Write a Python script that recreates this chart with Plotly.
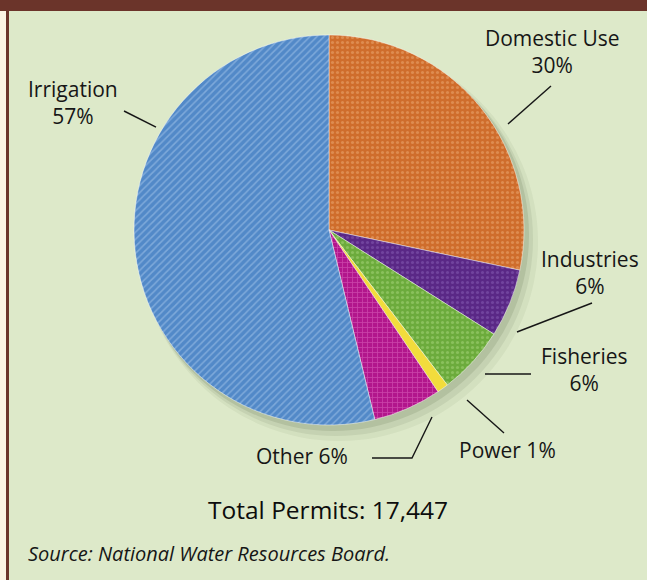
import plotly.graph_objects as go

# ---- data ----
categories = ["Domestic Use", "Industries", "Fisheries", "Power", "Other", "Irrigation"]
shares = [30, 6, 6, 1, 6, 57]  # percent of permits, as published
total_permits = 17447
source_note = "Source: National Water Resources Board."

# ---- styling ----
W, H = 647, 580
slice_colors = ["#cf6d2c", "#5a2886", "#6cab3c", "#f2dc3c", "#b2168c", "#5289c8"]
texture_colors = ["#f0b27c", "#8f66bb", "#b0dc84", "#fff3a0", "#e877cb", "#b3d0f0"]
texture_shapes = [".", ".", ".", "", "+", "/"]
bg_green = "#dde9c9"
frame_brown = "#6b342a"
page_cream = "#fbf3e3"
ink = "#161616"
font_family = "Open Sans, Noto Sans, DejaVu Sans, sans-serif"

# pie placement in pixels (centre and radius)
cx, cy, r = 329, 230, 195


def px(x):
    return x / W


def py(y):
    return 1 - y / H


def pie_domain(ox=0.0, oy=0.0, grow=0.0):
    rr = r + grow
    return dict(x=[px(cx + ox - rr), px(cx + ox + rr)],
                y=[py(cy + oy + rr), py(cy + oy - rr)])


fig = go.Figure()

# soft drop shadow under the pie (stacked translucent discs)
for ox, oy, grow, alpha in [(10, 12, 4, 0.05), (7, 9, 2, 0.08), (4, 5, 1, 0.11)]:
    fig.add_trace(go.Pie(
        values=[1], labels=["shadow"], domain=pie_domain(ox, oy, grow),
        marker=dict(colors=[f"rgba(40,55,20,{alpha})"], line=dict(width=0)),
        textinfo="none", hoverinfo="skip", showlegend=False, sort=False,
    ))

# the pie itself
fig.add_trace(go.Pie(
    labels=categories,
    values=shares,
    sort=False,
    direction="clockwise",
    rotation=0,
    domain=pie_domain(),
    marker=dict(
        colors=slice_colors,
        line=dict(color="rgba(255,255,255,0.45)", width=1),
        pattern=dict(
            shape=texture_shapes,
            fillmode="overlay",
            fgcolor=texture_colors,
            fgopacity=0.45,
            size=5,
            solidity=0.3,
        ),
    ),
    textinfo="none",
    hovertemplate="%{label}: %{value}%<extra></extra>",
    showlegend=False,
))

# ---- labels (text centre in px) and leader lines ----
share = dict(zip(categories, shares))
label_text = {
    "Domestic Use": f"Domestic Use<br>{share['Domestic Use']}%",
    "Industries": f"Industries<br>{share['Industries']}%",
    "Fisheries": f"Fisheries<br>{share['Fisheries']}%",
    "Power": f"Power {share['Power']}%",
    "Other": f"Other {share['Other']}%",
    "Irrigation": f"Irrigation<br>{share['Irrigation']}%",
}
label_pos = {
    "Domestic Use": (552, 51),
    "Industries": (590, 272),
    "Fisheries": (584, 369),
    "Power": (507, 450),
    "Other": (302, 456),
    "Irrigation": (73, 103),
}
leader_paths = {
    "Domestic Use": [(508, 124), (551, 86)],
    "Industries": [(517, 332), (592, 303)],
    "Fisheries": [(485, 374), (531, 374)],
    "Power": [(467, 400), (504, 433)],
    "Other": [(432, 417), (412, 458), (372, 458)],
    "Irrigation": [(156, 127), (124, 111)],
}

annotations = []
for cat in categories:
    x, y = label_pos[cat]
    annotations.append(dict(
        x=px(x), y=py(y), xref="paper", yref="paper",
        text=label_text[cat], showarrow=False,
        xanchor="center", yanchor="middle", align="center",
        font=dict(family=font_family, size=21, color=ink),
    ))

annotations.append(dict(
    x=px(328), y=py(509), xref="paper", yref="paper",
    text=f"Total Permits: {total_permits:,}", showarrow=False,
    xanchor="center", yanchor="middle",
    font=dict(family=font_family, size=24.5, color="#0c0c0c"),
))
annotations.append(dict(
    x=px(26), y=py(553), xref="paper", yref="paper",
    text=f"<i>{source_note}</i>", showarrow=False,
    xanchor="left", yanchor="middle",
    font=dict(family=font_family, size=20, color=ink),
))

shapes = []
# page frame: cream strip, brown rule on the left, brown band across the top
shapes.append(dict(type="rect", xref="paper", yref="paper",
                   x0=0, x1=px(6), y0=0, y1=1, fillcolor=page_cream, line=dict(width=0)))
shapes.append(dict(type="rect", xref="paper", yref="paper",
                   x0=px(6), x1=px(9), y0=0, y1=1, fillcolor=frame_brown, line=dict(width=0)))
shapes.append(dict(type="rect", xref="paper", yref="paper",
                   x0=0, x1=1, y0=py(11), y1=1, fillcolor=frame_brown, line=dict(width=0)))

for cat, pts in leader_paths.items():
    path = "M " + " L ".join(f"{px(x):.5f},{py(y):.5f}" for x, y in pts)
    shapes.append(dict(type="path", xref="paper", yref="paper", path=path,
                       line=dict(color=ink, width=1.4)))

fig.update_layout(
    width=W, height=H,
    margin=dict(l=0, r=0, t=0, b=0),
    paper_bgcolor=bg_green,
    plot_bgcolor=bg_green,
    annotations=annotations,
    shapes=shapes,
    showlegend=False,
)

fig.write_html("out.html")
